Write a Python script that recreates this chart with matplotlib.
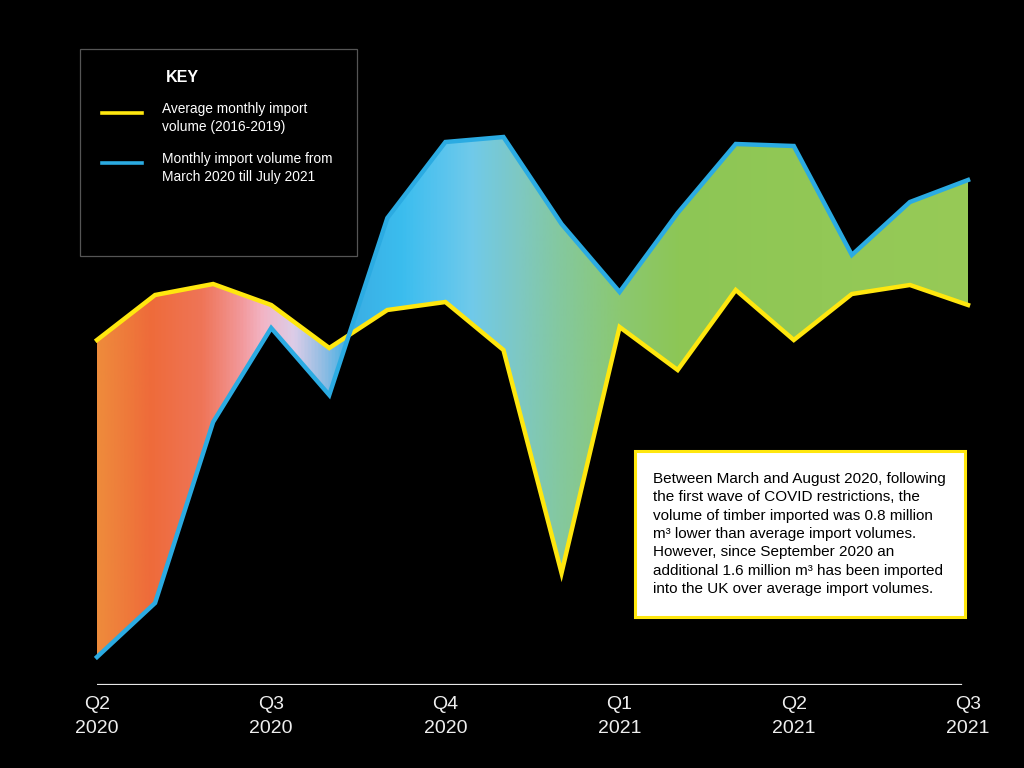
import numpy as np
import matplotlib
matplotlib.use("Agg")
import matplotlib.pyplot as plt
from matplotlib.colors import LinearSegmentedColormap
from matplotlib.patches import Rectangle
from matplotlib.lines import Line2D

plt.rcParams['font.family'] = ['Liberation Sans', 'DejaVu Sans']

# Data (thousand m3; months Apr 2020 - Jul 2021)
months = list(range(16))
average_volume = [690, 780, 802, 760, 674, 750, 766, 670, 224, 716, 630, 790, 690, 782, 800, 760]
monthly_volume = [56, 164, 526, 714, 580, 934, 1086, 1096, 922, 786, 944, 1082, 1078, 860, 966, 1010]
tick_positions = [0, 3, 6, 9, 12, 15]
tick_labels = ["Q2\n2020", "Q3\n2020", "Q4\n2020", "Q1\n2021", "Q2\n2021", "Q3\n2021"]

YELLOW = "#FFE70F"
BLUE = "#2BABE2"

W, H = 1024, 768
fig = plt.figure(figsize=(W / 100, H / 100), dpi=100, facecolor="black")

# axes: index 0 -> x=97px, index 15 -> x=968px ; value 0 -> y=685px, top 100px
left_px, right_px = 97, 968
bot_px, top_px = 685, 100
ax = fig.add_axes([left_px / W, (H - bot_px) / H, (right_px - left_px) / W, (bot_px - top_px) / H])
ax.set_facecolor("black")
ax.set_xlim(0, 15)
ax.set_ylim(0, (bot_px - top_px) * 2)
for s in ax.spines.values():
    s.set_visible(False)

# gradient fill between the lines
grad_colors = [
    (0.00, "#EE8B3C"), (0.06, "#EE6B3A"), (0.12, "#EF7558"), (0.164, "#F2989A"),
    (0.19, "#F2B5C6"), (0.225, "#DCCDE8"), (0.26, "#8EBCE3"), (0.29, "#3AAEE4"),
    (0.35, "#3BBDEE"), (0.395, "#58C4EE"), (0.43, "#70CAEA"), (0.485, "#7EC8C2"),
    (0.53, "#84C8A0"), (0.60, "#8BC872"), (0.67, "#8DC655"), (1.00, "#97CA57"),
]
cmap = LinearSegmentedColormap.from_list("grad", grad_colors)
poly = ax.fill_between(months, average_volume, monthly_volume, color="none", lw=0)
grad = np.linspace(0, 1, 512).reshape(1, -1)
im = ax.imshow(grad, cmap=cmap, aspect="auto", extent=[0, 15, 0, ax.get_ylim()[1]],
               origin="lower", zorder=1, interpolation="bilinear")
im.set_clip_path(poly.get_paths()[0], transform=ax.transData)

ax.plot(months, average_volume, color=YELLOW, lw=3.2, zorder=3, clip_on=False,
        solid_joinstyle="miter")
ax.plot(months, monthly_volume, color=BLUE, lw=3.2, zorder=3, clip_on=False,
        solid_joinstyle="miter")

# x axis line
ax.axhline(0, xmin=0.001, xmax=(961 - left_px) / (right_px - left_px), color="#E6E6E6", lw=1.6, zorder=2)
ax.set_yticks([])
ax.set_xticks(tick_positions)
ax.set_xticklabels(tick_labels, color="#EEEEEE", fontsize=14, linespacing=1.55)
ax.tick_params(axis="x", length=0, pad=8)

# Key box
key = Rectangle((80 / W, 1 - 256 / H), (357 - 80) / W, (256 - 49) / H, transform=fig.transFigure,
                facecolor="black", edgecolor="#555555", lw=0.9, zorder=5)
fig.patches.append(key)
fig.text(166 / W, 1 - 77 / H, "KEY", color="white", fontsize=11.5, fontweight="bold",
         ha="left", va="center", zorder=6)
fig.lines.append(Line2D([102 / W, 142 / W], [1 - 113 / H, 1 - 113 / H], transform=fig.transFigure,
                        color=YELLOW, lw=2.6, zorder=6))
fig.lines.append(Line2D([102 / W, 142 / W], [1 - 163 / H, 1 - 163 / H], transform=fig.transFigure,
                        color=BLUE, lw=2.6, zorder=6))
fig.text(162 / W, 1 - 118 / H, "Average monthly import\nvolume (2016-2019)", color="white",
         fontsize=9.9, ha="left", va="center", linespacing=1.42, zorder=6)
fig.text(162 / W, 1 - 168 / H, "Monthly import volume from\nMarch 2020 till July 2021", color="white",
         fontsize=9.9, ha="left", va="center", linespacing=1.42, zorder=6)
bar_cmap = LinearSegmentedColormap.from_list("bar", [(0, "#F28A2E"), (0.22, "#E2A067"), (0.38, "#B9C0B8"),
                                                     (0.5, "#38BDE8"), (0.72, "#62B68A"), (1, "#6EB24B")])
bax = fig.add_axes([105 / W, 1 - 214 / H, (325 - 105) / W, 12 / H])
bax.imshow(np.linspace(0, 1, 256).reshape(1, -1), cmap=bar_cmap, aspect="auto")
bax.axis("off")
fig.text(108 / W, 1 - 222 / H, "- Below average", color="white", fontsize=7.3, ha="left", va="center")
fig.text(328 / W, 1 - 222 / H, "Above average +", color="white", fontsize=7.3, ha="right", va="center")

# Annotation box
box = Rectangle((635 / W, 1 - 617 / H), (965 - 635) / W, (617 - 451) / H, transform=fig.transFigure,
                facecolor="white", edgecolor=YELLOW, lw=2.2, zorder=5)
fig.patches.append(box)
note = ("Between March and August 2020, following\n"
        "the first wave of COVID restrictions, the\n"
        "volume of timber imported was 0.8 million\n"
        "m³ lower than average import volumes.\n"
        "However, since September 2020 an\n"
        "additional 1.6 million m³ has been imported\n"
        "into the UK over average import volumes.")
fig.text(653 / W, 1 - 534 / H, note, color="black", fontsize=11.0, ha="left", va="center",
         linespacing=1.40, zorder=6)

fig.savefig("out.png", dpi=100, facecolor="black")
